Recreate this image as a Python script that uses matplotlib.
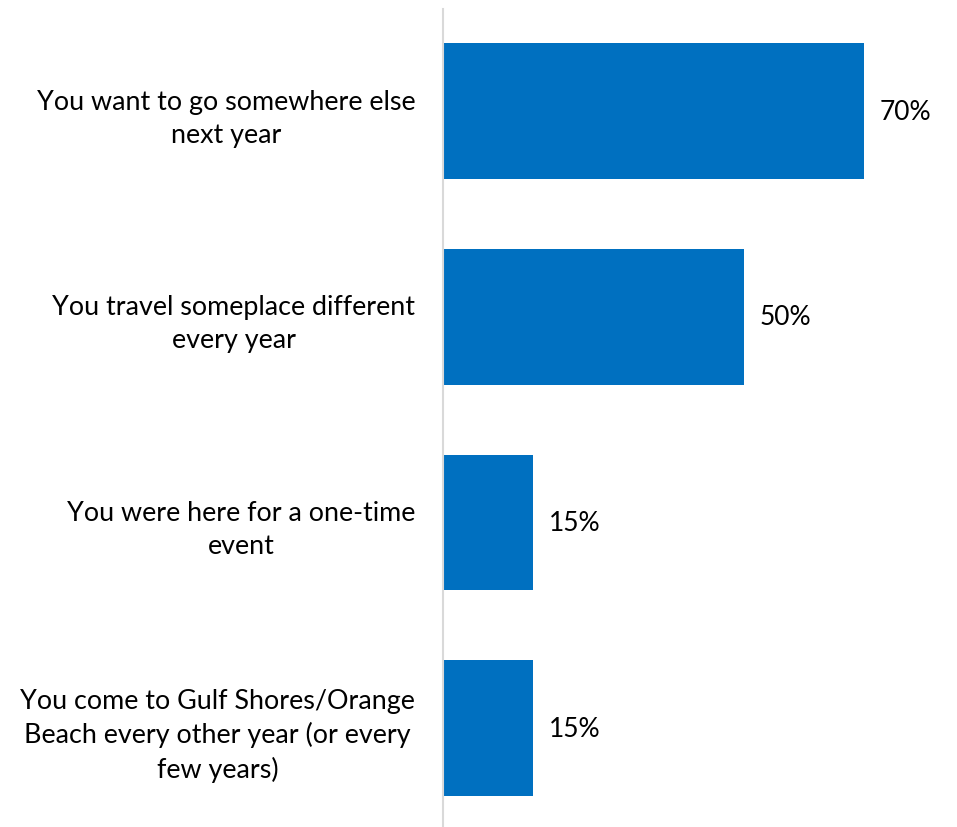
import matplotlib.pyplot as plt

# survey reasons, top to bottom
categories = [
    "You want to go somewhere else\nnext year",
    "You travel someplace different\nevery year",
    "You were here for a one-time\nevent",
    "You come to Gulf Shores/Orange\nBeach every other year (or every\nfew years)",
]
values = [70, 50, 15, 15]

plt.rcParams['font.family'] = ['Lato', 'DejaVu Sans']

fig = plt.figure(figsize=(9.57, 8.28), dpi=100)
ax = fig.add_axes([443 / 957, 0.0, 514 / 957, 818 / 828])

ypos = list(range(len(values)))
ax.barh(ypos, values, height=0.66, color='#0070C0')

for y, v in zip(ypos, values):
    ax.annotate(f"{v}%", xy=(v, y), xytext=(11.5, 0), textcoords='offset points',
                ha='left', va='center', fontsize=19, color='#000000')

ax.set_xlim(0, 85.5)
ax.set_ylim(3.48, -0.496)
ax.set_yticks(ypos)
ax.set_yticklabels(categories, fontsize=19.4, multialignment='center', linespacing=1.4)
ax.tick_params(axis='y', length=0, pad=20)
ax.set_xticks([])

for side in ['top', 'right', 'bottom']:
    ax.spines[side].set_visible(False)
ax.spines['left'].set_color('#D9D9D9')
ax.spines['left'].set_linewidth(1.5)

fig.savefig('out.png', dpi=100)
